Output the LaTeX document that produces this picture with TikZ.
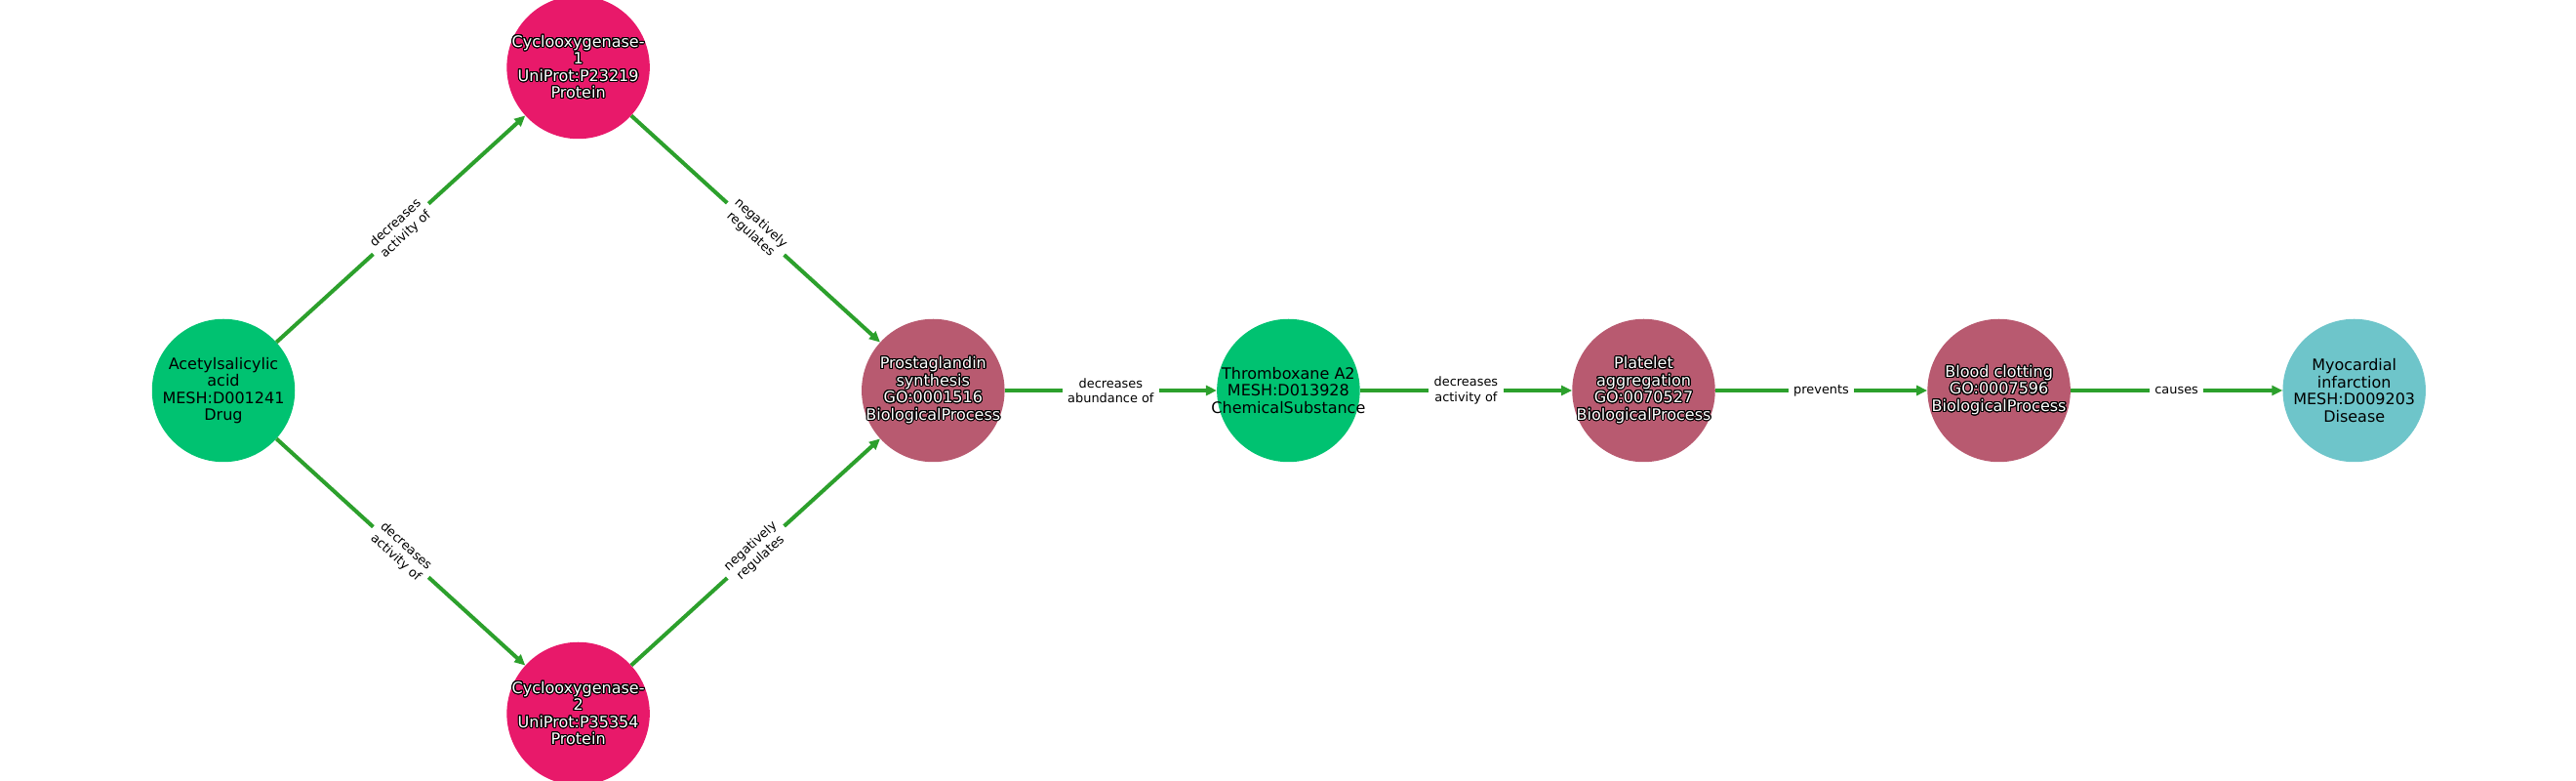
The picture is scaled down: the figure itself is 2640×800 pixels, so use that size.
\documentclass[tikz,border=0pt]{standalone}
\usepackage{fontspec}
\setmainfont{DejaVu Sans}
\usepackage{contour}
\usepackage{tikz}
\usetikzlibrary{arrows.meta, positioning}

\definecolor{drugcol}{HTML}{00C271}
\definecolor{protcol}{HTML}{E8196A}
\definecolor{biocol}{HTML}{B85A70}
\definecolor{discol}{HTML}{6EC5CA}
\definecolor{edgecol}{HTML}{2CA02C}

\contourlength{1.1pt}
\contournumber{20}
\newcommand{\wline}[1]{{\color{white}\contour{black}{#1}}}

\begin{document}
\begin{tikzpicture}[
        x=1pt, y=1pt,
        node distance=217.2pt,
        ent/.style={
            circle,
            draw=none,
            minimum size=146.5pt,
            inner sep=0pt
        },
        ntext/.style={
            align=center,
            font=\fontsize{16}{17.5}\selectfont,
            inner sep=0pt
        },
        elabel/.style={
            fill=white,
            align=center,
            font=\fontsize{12.9}{15.5}\selectfont,
            inner xsep=5.5pt,
            inner ysep=2pt,
            sloped
        },
        arrow/.style={
            draw=edgecol,
            line width=4pt,
            -{Triangle[length=11pt, width=10pt]}
        }
        ]

        \useasboundingbox (0,0) rectangle (2640,800);

        \node (asa) [ent, fill=drugcol] at (229,400) {};
        \node (cox1) [ent, fill=protcol] at (592.6,731) {};
        \node (cox2) [ent, fill=protcol] at (592.6,69) {};
        \node (pgs) [ent, fill=biocol] at (956.3,400) {};
        \node (txa) [ent, fill=drugcol, right=of pgs] {};
        \node (plt) [ent, fill=biocol, right=of txa] {};
        \node (clot) [ent, fill=biocol, right=of plt] {};
        \node (mi) [ent, fill=discol, right=of clot] {};

        \node [ntext] at (asa) {Acetylsalicylic\\acid\\MESH:D001241\\Drug};
        \node [ntext] at (cox1) {\wline{Cyclooxygenase-}\\\wline{1}\\\wline{UniProt:P23219}\\\wline{Protein}};
        \node [ntext] at (cox2) {\wline{Cyclooxygenase-}\\\wline{2}\\\wline{UniProt:P35354}\\\wline{Protein}};
        \node [ntext] at (pgs) {\wline{Prostaglandin}\\\wline{synthesis}\\\wline{GO:0001516}\\\wline{BiologicalProcess}};
        \node [ntext] at (txa) {Thromboxane A2\\MESH:D013928\\ChemicalSubstance};
        \node [ntext] at (plt) {\wline{Platelet}\\\wline{aggregation}\\\wline{GO:0070527}\\\wline{BiologicalProcess}};
        \node [ntext] at (clot) {\wline{Blood clotting}\\\wline{GO:0007596}\\\wline{BiologicalProcess}};
        \node [ntext] at (mi) {Myocardial\\infarction\\MESH:D009203\\Disease};

        \draw [arrow] (asa) -- node [elabel] {decreases\\activity of} (cox1);
        \draw [arrow] (asa) -- node [elabel] {decreases\\activity of} (cox2);
        \draw [arrow] (cox1) -- node [elabel] {negatively\\regulates} (pgs);
        \draw [arrow] (cox2) -- node [elabel] {negatively\\regulates} (pgs);
        \draw [arrow] (pgs) -- node [elabel] {decreases\\abundance of} (txa);
        \draw [arrow] (txa) -- node [elabel] {decreases\\activity of} (plt);
        \draw [arrow] (plt) -- node [elabel] {prevents} (clot);
        \draw [arrow] (clot) -- node [elabel] {causes} (mi);

    \end{tikzpicture}
\end{document}
